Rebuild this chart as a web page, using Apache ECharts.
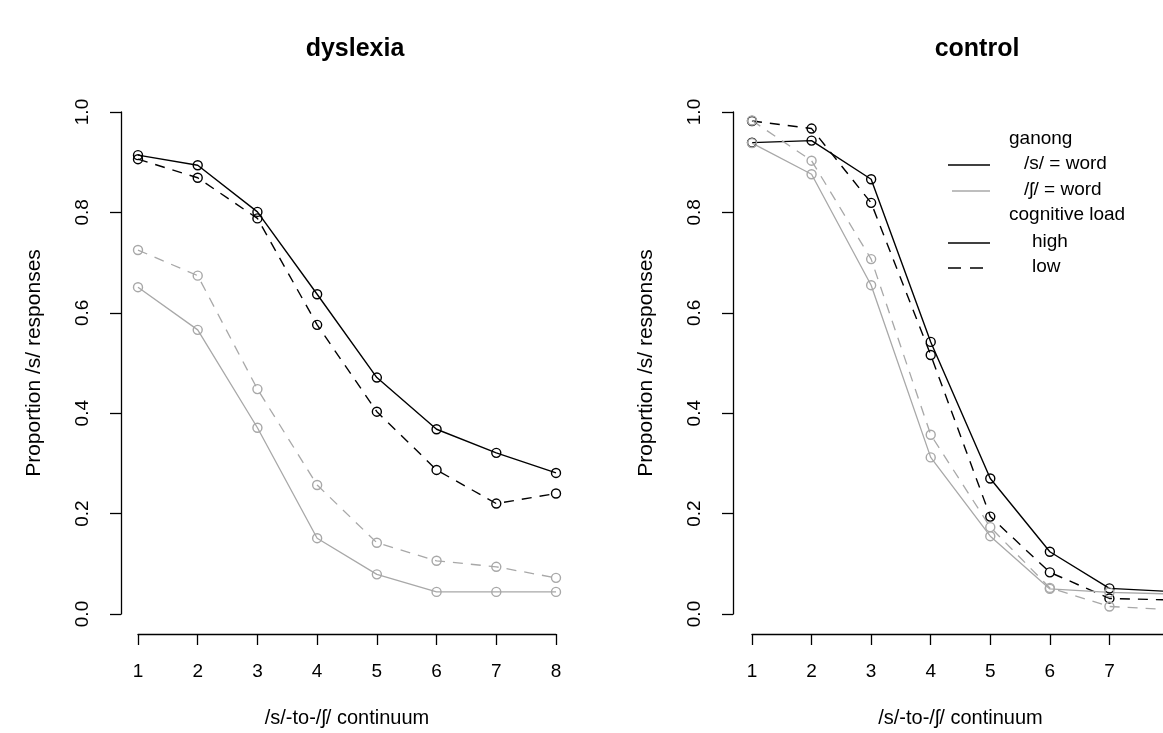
<!DOCTYPE html>
<html>
<head>
<meta charset="utf-8">
<script src="https://cdn.jsdelivr.net/npm/echarts@6/dist/echarts.min.js"></script>
<style>
  html, body { margin: 0; padding: 0; background: #fff; }
  #chart { width: 1163px; height: 733px; }
</style>
</head>
<body>
<div id="chart"></div>
<script>
// continuum steps
var steps = [1, 2, 3, 4, 5, 6, 7, 8];
var yTicks = [0, 0.2, 0.4, 0.6, 0.8, 1.0];

// dyslexia panel
var dysSHigh  = [0.914, 0.894, 0.801, 0.637, 0.471, 0.368, 0.321, 0.281];
var dysSLow   = [0.906, 0.869, 0.788, 0.576, 0.403, 0.287, 0.220, 0.240];
var dysShHigh = [0.651, 0.566, 0.371, 0.151, 0.079, 0.044, 0.044, 0.044];
var dysShLow  = [0.725, 0.674, 0.448, 0.257, 0.142, 0.106, 0.094, 0.072];

// control panel
var ctlSHigh  = [0.939, 0.943, 0.866, 0.542, 0.270, 0.124, 0.051, 0.045];
var ctlSLow   = [0.982, 0.967, 0.819, 0.516, 0.194, 0.083, 0.031, 0.028];
var ctlShHigh = [0.938, 0.876, 0.655, 0.312, 0.155, 0.050, 0.043, 0.040];
var ctlShLow  = [0.983, 0.903, 0.707, 0.357, 0.173, 0.052, 0.015, 0.009];

var FONT = "'Liberation Sans', Arial, sans-serif";
var BLACK = '#000';
var GREY = '#a8a8a8';
var DASH = [10, 8];

function pairs(vals) {
    return steps.map(function (s, i) { return [s, vals[i]]; });
}

function mkSeries(name, vals, color, dashed, gridIdx) {
    return {
        name: name,
        type: 'line',
        xAxisIndex: gridIdx,
        yAxisIndex: gridIdx,
        data: pairs(vals),
        clip: false,
        symbol: 'circle',
        symbolSize: 9,
        lineStyle: { color: color, width: color === BLACK ? 1.4 : 1.3, type: dashed ? DASH : 'solid' },
        itemStyle: { color: 'rgba(0,0,0,0)', borderColor: color, borderWidth: 1.4 },
        emphasis: { disabled: true },
        animation: false
    };
}

function mkX(gridIdx) {
    return {
        type: 'value', gridIndex: gridIdx,
        min: 1, max: 8, interval: 1,
        offset: 20,
        name: '/s/-to-/ʃ/ continuum',
        nameLocation: 'middle', nameGap: 74,
        nameTextStyle: { fontFamily: FONT, fontSize: 20, color: '#000' },
        axisLine: { show: true, onZero: false, lineStyle: { color: '#000', width: 1.3 } },
        axisTick: { show: true, length: 11, lineStyle: { color: '#000', width: 1.3 } },
        axisLabel: { margin: 28, fontFamily: FONT, fontSize: 19, color: '#000' },
        splitLine: { show: false }
    };
}

function mkY(gridIdx, off) {
    return {
        type: 'value', gridIndex: gridIdx,
        min: 0, max: 1, interval: 0.2,
        offset: off,
        name: 'Proportion /s/ responses',
        nameLocation: 'middle', nameGap: 76, nameRotate: 90,
        nameTextStyle: { fontFamily: FONT, fontSize: 21, color: '#000' },
        axisLine: { show: true, onZero: false, lineStyle: { color: '#000', width: 1.3 } },
        axisTick: { show: true, length: 11, lineStyle: { color: '#000', width: 1.3 } },
        axisLabel: {
            rotate: 90, margin: 29, fontFamily: FONT, fontSize: 19, color: '#000',
            formatter: function (v) { return v.toFixed(1); }
        },
        splitLine: { show: false }
    };
}

// legend (R-style, drawn as graphics)
var legendRows = [
    { text: 'ganong', x: 1009, y: 140, line: null },
    { text: '/s/ = word', x: 1024, y: 165, line: { color: BLACK, dash: null, x1: 948, x2: 990 } },
    { text: '/ʃ/ = word', x: 1024, y: 191, line: { color: GREY, dash: null, x1: 952, x2: 990 } },
    { text: 'cognitive load', x: 1009, y: 216, line: null },
    { text: 'high', x: 1032, y: 243, line: { color: BLACK, dash: null, x1: 948, x2: 990 } },
    { text: 'low', x: 1032, y: 268, line: { color: BLACK, dash: [13, 9], x1: 948, x2: 983 } }
];
var graphics = [];
legendRows.forEach(function (r) {
    graphics.push({
        type: 'text', left: r.x, top: r.y - 11,
        style: { text: r.text, font: '19px ' + FONT, fill: '#000' }
    });
    if (r.line) {
        graphics.push({
            type: 'line',
            shape: { x1: r.line.x1, y1: r.y, x2: r.line.x2, y2: r.y },
            style: { stroke: r.line.color, lineWidth: 1.5, lineDash: r.line.dash }
        });
    }
});

var chart = echarts.init(document.getElementById('chart'), null, { renderer: 'canvas' });
chart.setOption({
    backgroundColor: '#fff',
    animation: false,
    title: [
        { text: 'dyslexia', left: 350, top: 32, textAlign: 'center',
          textStyle: { fontFamily: FONT, fontSize: 25, fontWeight: 'bold', color: '#000' } },
        { text: 'control', left: 972, top: 32, textAlign: 'center',
          textStyle: { fontFamily: FONT, fontSize: 25, fontWeight: 'bold', color: '#000' } }
    ],
    grid: [
        { left: 138, top: 112, width: 418, height: 502, outerBoundsMode: 'none' },
        { left: 752, top: 112, width: 417, height: 502, outerBoundsMode: 'none' }
    ],
    xAxis: [mkX(0), mkX(1)],
    yAxis: [mkY(0, 17), mkY(1, 19)],
    graphic: graphics,
    series: [
        mkSeries('/s/ = word, high', dysSHigh, BLACK, false, 0),
        mkSeries('/s/ = word, low', dysSLow, BLACK, true, 0),
        mkSeries('/ʃ/ = word, high', dysShHigh, GREY, false, 0),
        mkSeries('/ʃ/ = word, low', dysShLow, GREY, true, 0),
        mkSeries('/s/ = word, high', ctlSHigh, BLACK, false, 1),
        mkSeries('/s/ = word, low', ctlSLow, BLACK, true, 1),
        mkSeries('/ʃ/ = word, high', ctlShHigh, GREY, false, 1),
        mkSeries('/ʃ/ = word, low', ctlShLow, GREY, true, 1)
    ]
});

window.addEventListener('resize', function () { chart.resize(); });
</script>
</body>
</html>
